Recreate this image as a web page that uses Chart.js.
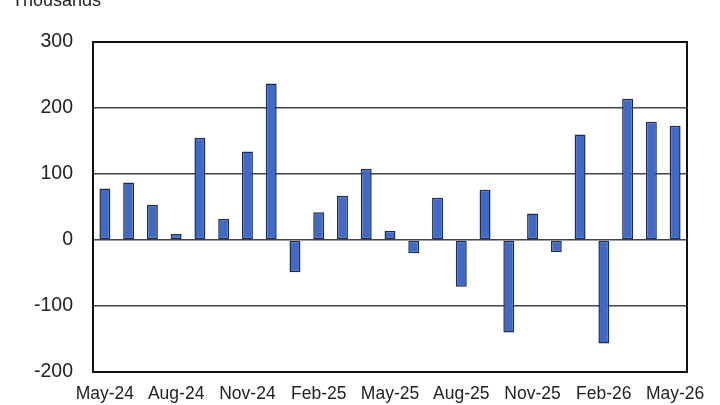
<!DOCTYPE html>
<html>
<head>
<meta charset="utf-8">
<script src="https://cdn.jsdelivr.net/npm/chart.js@4/dist/chart.umd.min.js"></script>
<style>
  html, body { margin: 0; padding: 0; background: #fff; }
  #wrap { width: 720px; height: 405px; position: relative; }
</style>
</head>
<body>
<div id="wrap"><canvas id="chart"></canvas></div>
<script>
// monthly change, thousands
const months = [
  'May-24', 'Jun-24', 'Jul-24', 'Aug-24', 'Sep-24', 'Oct-24', 'Nov-24', 'Dec-24',
  'Jan-25', 'Feb-25', 'Mar-25', 'Apr-25', 'May-25', 'Jun-25', 'Jul-25', 'Aug-25',
  'Sep-25', 'Oct-25', 'Nov-25', 'Dec-25', 'Jan-26', 'Feb-26', 'Mar-26', 'Apr-26', 'May-26'
];
const values = [
  78, 87, 53, 9, 155, 32, 134, 237,
  -49, 42, 67, 108, 14, -20, 64, -71,
  76, -140, 40, -18, 160, -157, 214, 179, 173
];
const shownTicks = ['May-24', 'Aug-24', 'Nov-24', 'Feb-25', 'May-25', 'Aug-25', 'Nov-25', 'Feb-26', 'May-26'];
const unitLabel = 'Thousands';

// frame round the plot + the unit text in the corner
const framePlugin = {
  id: 'frame',
  afterDraw(chart) {
    const { ctx, chartArea: a } = chart;
    ctx.save();
    ctx.strokeStyle = '#111';
    ctx.lineWidth = 2;
    ctx.strokeRect(a.left, a.top, a.right - a.left, a.bottom - a.top);
    ctx.fillStyle = '#222';
    ctx.font = '18px "Liberation Sans", Arial, sans-serif';
    ctx.textBaseline = 'alphabetic';
    ctx.fillText(unitLabel, 12, 6);
    ctx.restore();
  }
};

new Chart(document.getElementById('chart'), {
  type: 'bar',
  data: {
    labels: months,
    datasets: [{
      data: values,
      backgroundColor: '#4169c6',
      borderColor: '#1b2b55',
      borderWidth: 1.5,
      borderSkipped: false,
      categoryPercentage: 1,
      barPercentage: 0.46
    }]
  },
  options: {
    responsive: true,
    maintainAspectRatio: false,
    animation: false,
    layout: { padding: { top: 42, right: 33, bottom: 0, left: 0 } },
    plugins: {
      legend: { display: false },
      tooltip: { enabled: false }
    },
    scales: {
      x: {
        grid: { display: false, drawTicks: false },
        border: { display: false },
        afterFit(scale) { scale.height = 33; },
        ticks: {
          autoSkip: false,
          maxRotation: 0,
          padding: 12,
          color: '#222',
          font: { family: '"Liberation Sans", Arial, sans-serif', size: 17.5 },
          callback(val) {
            const m = months[val];
            return shownTicks.includes(m) ? m : '';
          }
        }
      },
      y: {
        min: -200,
        max: 300,
        afterFit(scale) { scale.width = 93; },
        grid: { color: '#444', lineWidth: 1.5, drawTicks: false },
        border: { display: false },
        ticks: {
          stepSize: 100,
          padding: 20,
          color: '#222',
          font: { family: '"Liberation Sans", Arial, sans-serif', size: 19.5 }
        }
      }
    }
  },
  plugins: [framePlugin]
});
</script>
</body>
</html>
